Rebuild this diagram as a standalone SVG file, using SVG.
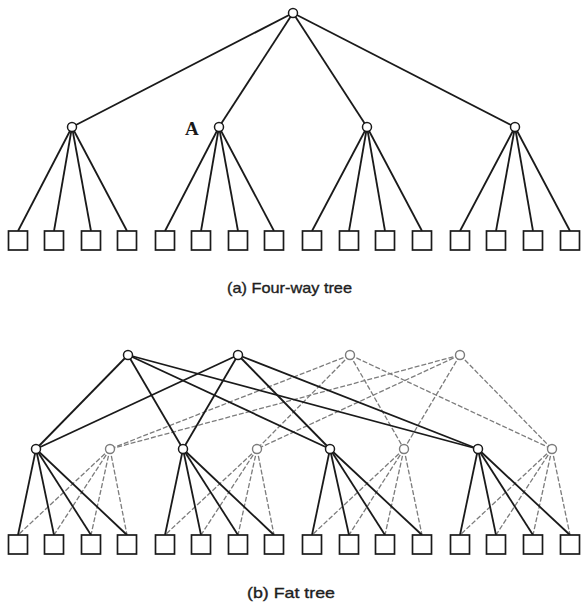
<svg xmlns="http://www.w3.org/2000/svg" width="582" height="606" viewBox="0 0 582 606">
<style>
.e{stroke:#1a1a1a;stroke-width:1.8;fill:none}
.l{stroke:#7c7c7c;stroke-width:1.3;stroke-dasharray:5 2;fill:none}
.n{fill:#fff;stroke:#1a1a1a;stroke-width:1.5}
.nl{fill:#fff;stroke:#7c7c7c;stroke-width:1.4}
.s{fill:#fff;stroke:#1a1a1a;stroke-width:1.7}
.cap{font-family:"Liberation Sans",Arial,sans-serif;font-size:15px;fill:#1e1e1e;stroke:#1e1e1e;stroke-width:0.35}
</style>
<rect width="582" height="606" fill="#fff"/>
<g id="connectors">
<g id="conn-a">
<line class="e" x1="293" y1="13" x2="72" y2="127"/>
<line class="e" x1="293" y1="13" x2="219" y2="127"/>
<line class="e" x1="293" y1="13" x2="367" y2="127"/>
<line class="e" x1="293" y1="13" x2="515" y2="127"/>
<line class="e" x1="72" y1="127" x2="18" y2="231"/>
<line class="e" x1="72" y1="127" x2="54" y2="231"/>
<line class="e" x1="72" y1="127" x2="91" y2="231"/>
<line class="e" x1="72" y1="127" x2="127" y2="231"/>
<line class="e" x1="219" y1="127" x2="165" y2="231"/>
<line class="e" x1="219" y1="127" x2="201" y2="231"/>
<line class="e" x1="219" y1="127" x2="238" y2="231"/>
<line class="e" x1="219" y1="127" x2="274" y2="231"/>
<line class="e" x1="367" y1="127" x2="312" y2="231"/>
<line class="e" x1="367" y1="127" x2="349" y2="231"/>
<line class="e" x1="367" y1="127" x2="385" y2="231"/>
<line class="e" x1="367" y1="127" x2="422" y2="231"/>
<line class="e" x1="515" y1="127" x2="460" y2="231"/>
<line class="e" x1="515" y1="127" x2="496" y2="231"/>
<line class="e" x1="515" y1="127" x2="533" y2="231"/>
<line class="e" x1="515" y1="127" x2="570" y2="231"/>
</g>
<g id="conn-b-light">
<line class="l" x1="350" y1="355" x2="110" y2="449"/>
<line class="l" x1="350" y1="355" x2="257" y2="449"/>
<line class="l" x1="350" y1="355" x2="404" y2="449"/>
<line class="l" x1="350" y1="355" x2="552" y2="449"/>
<line class="l" x1="460" y1="355" x2="110" y2="449"/>
<line class="l" x1="460" y1="355" x2="257" y2="449"/>
<line class="l" x1="460" y1="355" x2="404" y2="449"/>
<line class="l" x1="460" y1="355" x2="552" y2="449"/>
<line class="l" x1="110" y1="449" x2="18" y2="535"/>
<line class="l" x1="110" y1="449" x2="54" y2="535"/>
<line class="l" x1="110" y1="449" x2="91" y2="535"/>
<line class="l" x1="110" y1="449" x2="127" y2="535"/>
<line class="l" x1="257" y1="449" x2="165" y2="535"/>
<line class="l" x1="257" y1="449" x2="201" y2="535"/>
<line class="l" x1="257" y1="449" x2="238" y2="535"/>
<line class="l" x1="257" y1="449" x2="274" y2="535"/>
<line class="l" x1="404" y1="449" x2="312" y2="535"/>
<line class="l" x1="404" y1="449" x2="349" y2="535"/>
<line class="l" x1="404" y1="449" x2="385" y2="535"/>
<line class="l" x1="404" y1="449" x2="422" y2="535"/>
<line class="l" x1="552" y1="449" x2="460" y2="535"/>
<line class="l" x1="552" y1="449" x2="496" y2="535"/>
<line class="l" x1="552" y1="449" x2="533" y2="535"/>
<line class="l" x1="552" y1="449" x2="570" y2="535"/>
</g>
<g id="conn-b-dark">
<line class="e" x1="128" y1="355" x2="36" y2="449"/>
<line class="e" x1="128" y1="355" x2="183" y2="449"/>
<line class="e" x1="128" y1="355" x2="330" y2="449"/>
<line class="e" x1="128" y1="355" x2="478" y2="449"/>
<line class="e" x1="238" y1="355" x2="36" y2="449"/>
<line class="e" x1="238" y1="355" x2="183" y2="449"/>
<line class="e" x1="238" y1="355" x2="330" y2="449"/>
<line class="e" x1="238" y1="355" x2="478" y2="449"/>
<line class="e" x1="36" y1="449" x2="18" y2="535"/>
<line class="e" x1="36" y1="449" x2="54" y2="535"/>
<line class="e" x1="36" y1="449" x2="91" y2="535"/>
<line class="e" x1="36" y1="449" x2="127" y2="535"/>
<line class="e" x1="183" y1="449" x2="165" y2="535"/>
<line class="e" x1="183" y1="449" x2="201" y2="535"/>
<line class="e" x1="183" y1="449" x2="238" y2="535"/>
<line class="e" x1="183" y1="449" x2="274" y2="535"/>
<line class="e" x1="330" y1="449" x2="312" y2="535"/>
<line class="e" x1="330" y1="449" x2="349" y2="535"/>
<line class="e" x1="330" y1="449" x2="385" y2="535"/>
<line class="e" x1="330" y1="449" x2="422" y2="535"/>
<line class="e" x1="478" y1="449" x2="460" y2="535"/>
<line class="e" x1="478" y1="449" x2="496" y2="535"/>
<line class="e" x1="478" y1="449" x2="533" y2="535"/>
<line class="e" x1="478" y1="449" x2="570" y2="535"/>
</g>
</g>
<g id="a-root"><circle class="n" cx="293" cy="13" r="4.5"/></g>
<g id="a-s1"><circle class="n" cx="72" cy="127" r="4.5"/></g>
<g id="a-s2"><circle class="n" cx="219" cy="127" r="4.5"/></g>
<g id="a-s3"><circle class="n" cx="367" cy="127" r="4.5"/></g>
<g id="a-s4"><circle class="n" cx="515" cy="127" r="4.5"/></g>
<g id="a-leaves">
<rect class="s" x="8.5" y="231" width="19" height="19"/>
<rect class="s" x="44.5" y="231" width="19" height="19"/>
<rect class="s" x="81.5" y="231" width="19" height="19"/>
<rect class="s" x="117.5" y="231" width="19" height="19"/>
<rect class="s" x="155.5" y="231" width="19" height="19"/>
<rect class="s" x="191.5" y="231" width="19" height="19"/>
<rect class="s" x="228.5" y="231" width="19" height="19"/>
<rect class="s" x="264.5" y="231" width="19" height="19"/>
<rect class="s" x="302.5" y="231" width="19" height="19"/>
<rect class="s" x="339.5" y="231" width="19" height="19"/>
<rect class="s" x="375.5" y="231" width="19" height="19"/>
<rect class="s" x="412.5" y="231" width="19" height="19"/>
<rect class="s" x="450.5" y="231" width="19" height="19"/>
<rect class="s" x="486.5" y="231" width="19" height="19"/>
<rect class="s" x="523.5" y="231" width="19" height="19"/>
<rect class="s" x="560.5" y="231" width="19" height="19"/>
</g>
<text x="185" y="135" font-family="'Liberation Serif','Times New Roman',serif" font-size="19" font-weight="bold" fill="#1a1a1a">A</text>
<text class="cap" x="227" y="293" textLength="125" lengthAdjust="spacingAndGlyphs">(a) Four-way tree</text>
<g id="b-t1"><circle class="n" cx="128" cy="355" r="4.5"/></g>
<g id="b-t2"><circle class="n" cx="238" cy="355" r="4.5"/></g>
<g id="b-t3"><circle class="nl" cx="350" cy="355" r="4.5"/></g>
<g id="b-t4"><circle class="nl" cx="460" cy="355" r="4.5"/></g>
<g id="b-m1"><circle class="n" cx="36" cy="449" r="4.5"/></g>
<g id="b-m2"><circle class="nl" cx="110" cy="449" r="4.5"/></g>
<g id="b-m3"><circle class="n" cx="183" cy="449" r="4.5"/></g>
<g id="b-m4"><circle class="nl" cx="257" cy="449" r="4.5"/></g>
<g id="b-m5"><circle class="n" cx="330" cy="449" r="4.5"/></g>
<g id="b-m6"><circle class="nl" cx="404" cy="449" r="4.5"/></g>
<g id="b-m7"><circle class="n" cx="478" cy="449" r="4.5"/></g>
<g id="b-m8"><circle class="nl" cx="552" cy="449" r="4.5"/></g>
<g id="b-leaves">
<rect class="s" x="8.5" y="535" width="19" height="19"/>
<rect class="s" x="44.5" y="535" width="19" height="19"/>
<rect class="s" x="81.5" y="535" width="19" height="19"/>
<rect class="s" x="117.5" y="535" width="19" height="19"/>
<rect class="s" x="155.5" y="535" width="19" height="19"/>
<rect class="s" x="191.5" y="535" width="19" height="19"/>
<rect class="s" x="228.5" y="535" width="19" height="19"/>
<rect class="s" x="264.5" y="535" width="19" height="19"/>
<rect class="s" x="302.5" y="535" width="19" height="19"/>
<rect class="s" x="339.5" y="535" width="19" height="19"/>
<rect class="s" x="375.5" y="535" width="19" height="19"/>
<rect class="s" x="412.5" y="535" width="19" height="19"/>
<rect class="s" x="450.5" y="535" width="19" height="19"/>
<rect class="s" x="486.5" y="535" width="19" height="19"/>
<rect class="s" x="523.5" y="535" width="19" height="19"/>
<rect class="s" x="560.5" y="535" width="19" height="19"/>
</g>
<text class="cap" x="247" y="598" textLength="88" lengthAdjust="spacingAndGlyphs">(b) Fat tree</text>
</svg>
